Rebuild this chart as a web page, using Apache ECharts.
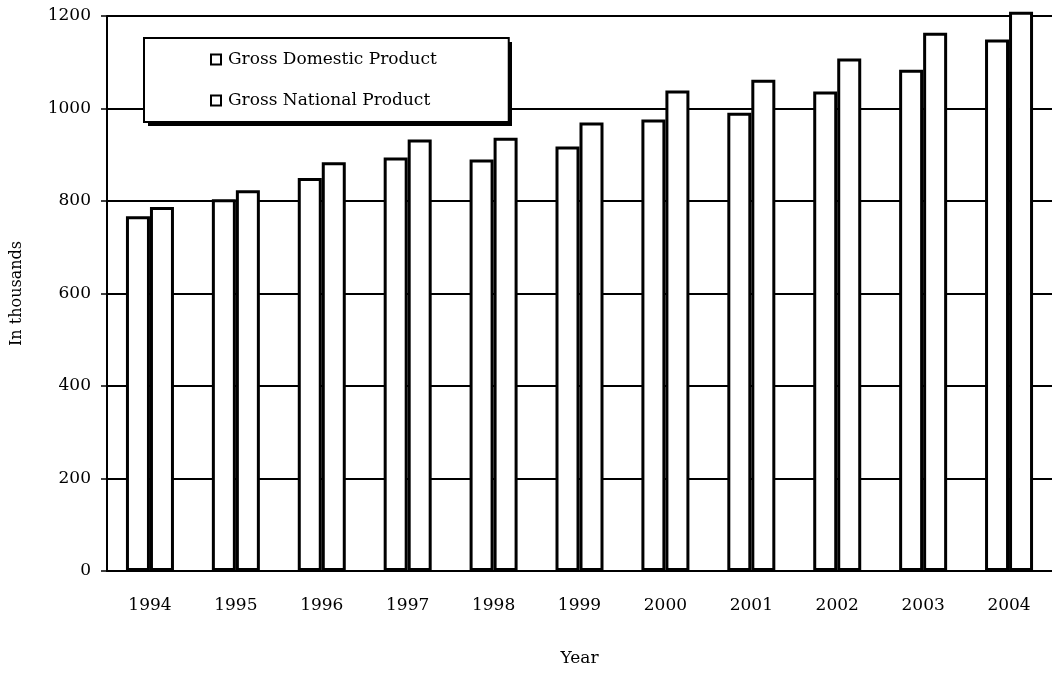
<!DOCTYPE html>
<html>
<head lang="en">
    <meta charset="UTF-8">
    <title></title>
    <script type="text/javascript" src="https://cdn.jsdelivr.net/npm/echarts@6/dist/echarts.min.js"></script>
</head>
<body style="margin:0;background:#fff;">
<div id="main" style="width:1052px;height:681px;"></div>
</body>
</html>
<script type="text/javascript">
    // data
    var years = ['1994','1995','1996','1997','1998','1999','2000','2001','2002','2003','2004'];
    var gdp = [767, 804, 850, 894, 890, 918, 976, 991, 1037, 1084, 1149];
    var gnp = [787, 823, 884, 933, 937, 970, 1039, 1062, 1108, 1164, 1209];
    var yTicks = [0, 200, 400, 600, 800, 1000, 1200];

    var font = 'DejaVu Serif';
    var barStyle = {color: '#fff', borderColor: '#000', borderWidth: 3};

    var myChart = echarts.init(document.getElementById('main'));
    var option = {
        animation: false,
        backgroundColor: '#fff',
        textStyle: {fontFamily: font, color: '#000'},
        grid: {left: 107, top: 16, width: 951, bottom: 110},
        // drop shadow of the legend box (offset black box behind it)
        graphic: [{
            type: 'rect',
            left: 148, top: 42, z: 3,
            shape: {width: 364, height: 84},
            style: {fill: '#000'}
        }],
        legend: {
            orient: 'vertical',
            left: 144,
            top: 38,
            z: 10,
            padding: [13, 72, 13, 66],
            itemGap: 24,
            itemWidth: 10,
            itemHeight: 10,
            icon: 'rect',
            backgroundColor: '#fff',
            borderColor: '#000',
            borderWidth: 2,
            borderRadius: 0,
            textStyle: {fontFamily: font, fontSize: 17, color: '#000', padding: [0, 0, 0, 2]},
            data: ['Gross Domestic Product', 'Gross National Product']
        },
        xAxis: {
            type: 'category',
            data: years,
            name: 'Year',
            nameLocation: 'middle',
            nameGap: 79,
            nameTextStyle: {fontFamily: font, fontSize: 17, color: '#000'},
            axisLine: {lineStyle: {color: '#000', width: 2}},
            axisTick: {length: 5, lineStyle: {color: '#000', width: 1.5}},
            axisLabel: {fontFamily: font, fontSize: 17, color: '#000', margin: 26}
        },
        yAxis: {
            type: 'value',
            min: yTicks[0],
            max: yTicks[yTicks.length - 1],
            interval: 200,
            name: 'In thousands',
            nameLocation: 'middle',
            nameRotate: 90,
            nameGap: 82,
            nameTextStyle: {fontFamily: font, fontSize: 16, color: '#000'},
            axisLine: {show: true, lineStyle: {color: '#000', width: 2}},
            axisTick: {show: true, length: 6, lineStyle: {color: '#000', width: 1.5}},
            axisLabel: {fontFamily: font, fontSize: 17, color: '#000', margin: 16,
                formatter: function (v) { return String(v); }},
            splitLine: {lineStyle: {color: '#000', width: 2}}
        },
        series: [
            {
                name: 'Gross Domestic Product',
                type: 'bar',
                barWidth: 24,
                barGap: '0%',
                clip: false,
                itemStyle: barStyle,
                data: gdp
            },
            {
                name: 'Gross National Product',
                type: 'bar',
                barWidth: 24,
                barGap: '0%',
                clip: false,
                itemStyle: barStyle,
                data: gnp
            }
        ]
    };
    myChart.setOption(option);
</script>
